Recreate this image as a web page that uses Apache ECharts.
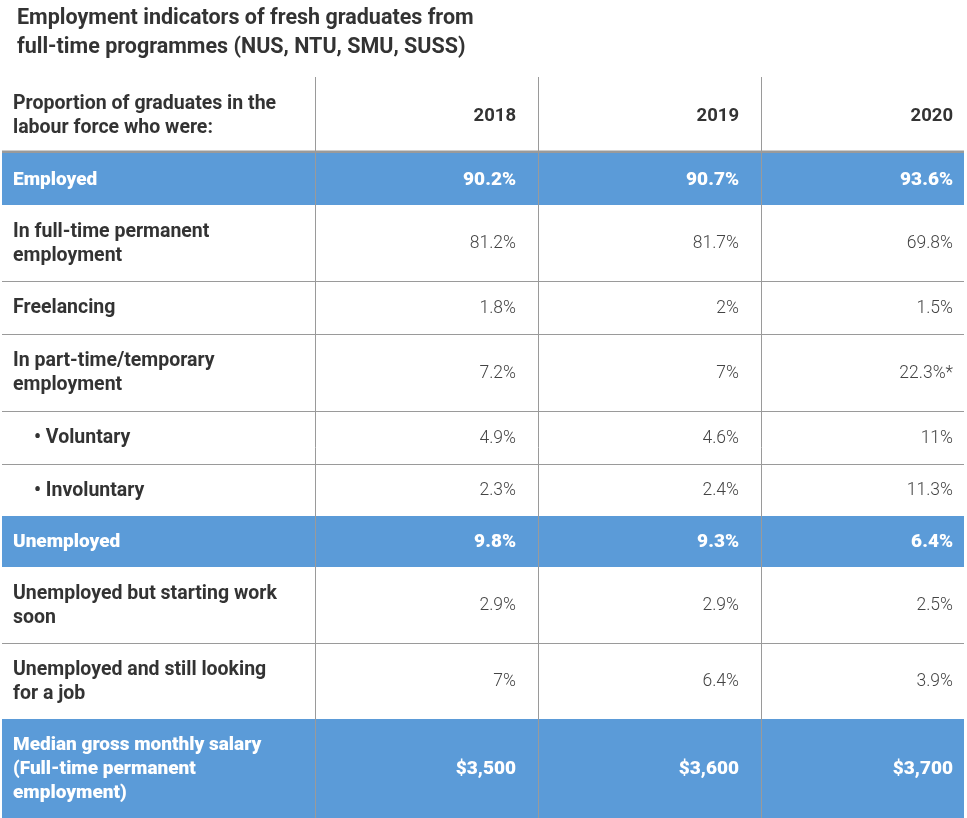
<!DOCTYPE html>
<html>
<head>
<meta charset="utf-8">
<script src="https://cdn.jsdelivr.net/npm/echarts@6/dist/echarts.min.js"></script>
<style>html,body{margin:0;padding:0;background:#fff}#c{width:967px;height:818px}</style>
</head>
<body>
<div id="c"></div>
<script>
// ---- data ----
const titleText = 'Employment indicators of fresh graduates from\nfull-time programmes (NUS, NTU, SMU, SUSS)';
const headerLabel = 'Proportion of graduates in the\nlabour force who were:';
const years = ['2018', '2019', '2020'];
const rowLabels = [
  'Employed',
  'In full-time permanent\nemployment',
  'Freelancing',
  'In part-time/temporary\nemployment',
  '• Voluntary',
  '• Involuntary',
  'Unemployed',
  'Unemployed but starting work\nsoon',
  'Unemployed and still looking\nfor a job',
  'Median gross monthly salary\n(Full-time permanent\nemployment)'
];
const values2018 = ['90.2%', '81.2%', '1.8%', '7.2%', '4.9%', '2.3%', '9.8%', '2.9%', '7%', '$3,500'];
const values2019 = ['90.7%', '81.7%', '2%', '7%', '4.6%', '2.4%', '9.3%', '2.9%', '6.4%', '$3,600'];
const values2020 = ['93.6%', '69.8%', '1.5%', '22.3%*', '11%', '11.3%', '6.4%', '2.5%', '3.9%', '$3,700'];
const summaryRows = ['Employed', 'Unemployed', 'Median gross monthly salary\n(Full-time permanent\nemployment)'];
const subRows = ['• Voluntary', '• Involuntary'];

// ---- layout ----
const rowEdges = [77, 153, 205, 281, 334, 411, 464, 516, 567, 643, 719, 818];
const colEdges = [2, 315, 538, 761, 964];
const valueRight = [516, 739, 953];
const BLUE = '#5b9bd8';
const LINE = '#9a9a9a';

const valueCols = [values2018, values2019, values2020];
const cells = [];
cells.push([0, 0]);
years.forEach((y, j) => cells.push([0, j + 1]));
rowLabels.forEach((r, i) => {
  cells.push([i + 1, 0]);
  valueCols.forEach((vc, j) => cells.push([i + 1, j + 1]));
});

function cellText(r, c) {
  if (r === 0) return c === 0 ? headerLabel : years[c - 1];
  return c === 0 ? rowLabels[r - 1] : valueCols[c - 1][r - 1];
}
function isSummary(r) { return r > 0 && summaryRows.indexOf(rowLabels[r - 1]) >= 0; }

const chart = echarts.init(document.getElementById('c'), null, { renderer: 'canvas' });
chart.setOption({
  backgroundColor: '#fff',
  animation: false,
  title: {
    text: titleText,
    left: 12, top: -1,
    textStyle: { fontFamily: 'Roboto', fontWeight: 'bold', fontSize: 21.5, color: '#333', lineHeight: 29 }
  },
  grid: { left: 0, right: 0, top: 0, bottom: 0 },
  xAxis: { type: 'value', min: 0, max: 967, show: false },
  yAxis: { type: 'value', min: 0, max: 818, inverse: true, show: false },
  series: [
    {
      type: 'custom',
      coordinateSystem: 'cartesian2d',
      data: cells,
      z: 2,
      renderItem: function (params, api) {
        const r = api.value(0), c = api.value(1);
        const p0 = api.coord([colEdges[c], rowEdges[r]]);
        const p1 = api.coord([colEdges[c + 1], rowEdges[r + 1]]);
        const children = [];
        const summ = isSummary(r);
        if (summ) {
          children.push({ type: 'rect', shape: { x: p0[0], y: p0[1], width: p1[0] - p0[0], height: p1[1] - p0[1] }, style: { fill: BLUE } });
        }
        if (r === 0) {
          children.push({ type: 'line', shape: { x1: p0[0], y1: p1[1] - 1, x2: p1[0], y2: p1[1] - 1 }, style: { stroke: LINE, lineWidth: 3 } });
        } else if (!summ && r < rowLabels.length && !isSummary(r + 1)) {
          children.push({ type: 'line', shape: { x1: p0[0], y1: p1[1] + 0.5, x2: p1[0], y2: p1[1] + 0.5 }, style: { stroke: LINE, lineWidth: 1 } });
        }
        const txt = cellText(r, c);
        const isSub = r > 0 && c === 0 && subRows.indexOf(rowLabels[r - 1]) >= 0;
        const bold = c === 0 || r === 0 || summ;
        let size = 17.5, weight = 300;
        if (summ) { size = c === 0 ? 19 : 19; weight = 900; }
        else if (c === 0) { size = 19.5; weight = 'bold'; }
        else if (r === 0) { size = 18.5; weight = 'bold'; }
        children.push({
          type: 'text',
          z2: 5,
          style: {
            text: txt,
            x: c === 0 ? p0[0] + (isSub ? 32 : 11) : valueRight[c - 1],
            y: (p0[1] + p1[1]) / 2 + 1,
            align: c === 0 ? 'left' : 'right',
            verticalAlign: 'middle',
            fontFamily: 'Roboto',
            fontWeight: weight,
            fontSize: size,
            lineHeight: 24,
            fill: summ ? '#ffffff' : (bold ? '#333333' : '#444444')
          }
        });
        return { type: 'group', children: children };
      }
    },
    {
      type: 'custom',
      coordinateSystem: 'cartesian2d',
      data: [1, 2, 3],
      z: 5,
      renderItem: function (params, api) {
        const c = api.value(0);
        const a = api.coord([colEdges[c], rowEdges[0]]);
        const b = api.coord([colEdges[c], rowEdges[rowEdges.length - 1]]);
        return { type: 'line', shape: { x1: Math.round(a[0]) + 0.5, y1: a[1], x2: Math.round(b[0]) + 0.5, y2: b[1] }, style: { stroke: LINE, lineWidth: 1 } };
      }
    }
  ]
});
</script>
</body>
</html>
